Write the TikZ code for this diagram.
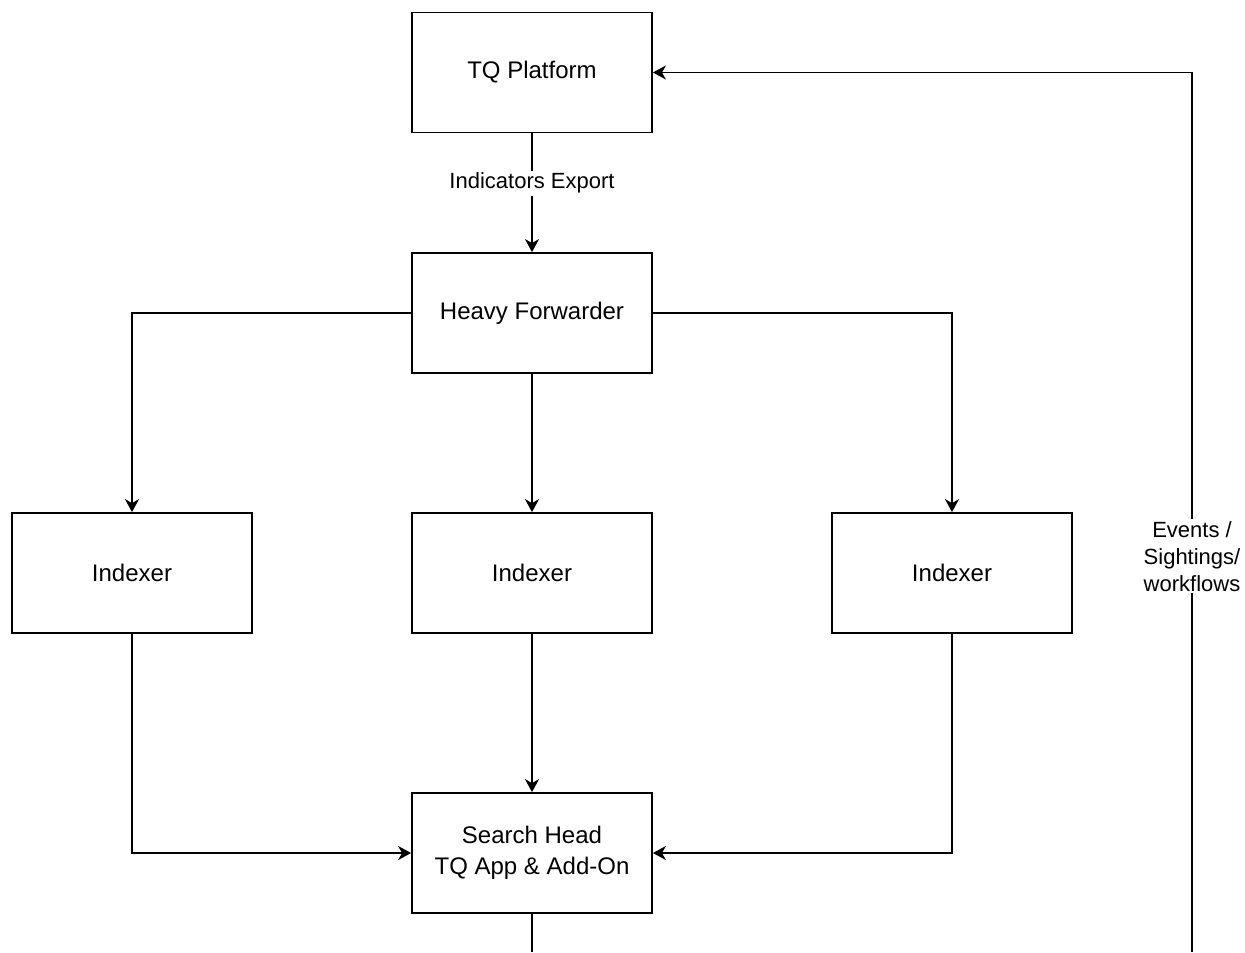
\documentclass[tikz,border=0pt]{standalone}
\usepackage{fontspec}
\setmainfont{Liberation Sans}
\usetikzlibrary{arrows.meta}
\begin{document}
\begin{tikzpicture}[x=0.5pt,y=-0.5pt,
  box/.style={draw,line width=0.9pt,minimum width=120pt,minimum height=60pt,inner sep=0pt,align=center,font=\fontsize{12}{15.5}\selectfont},
  conn/.style={line width=0.9pt,-{Stealth[length=6.5pt,width=7pt,inset=2pt]}},
  plain/.style={line width=0.9pt},
  lbl/.style={fill=white,inner sep=1pt,align=center,font=\fontsize{11}{13.5}\selectfont}]
\useasboundingbox (0,0) rectangle (1245,952);
\node[box] (tq) at (532,72.5) {TQ Platform};
\node[box] (hf) at (532,313) {Heavy Forwarder};
\node[box] (i1) at (132,573) {Indexer};
\node[box] (i2) at (532,573) {Indexer};
\node[box] (i3) at (952,573) {Indexer};
\node[box] (sh) at (532,853) {Search Head\\TQ App \& Add-On};
\coordinate (bot) at (532,952);
\coordinate (rbot) at (1192,952);
\draw[conn] (tq) -- node[lbl,pos=0.42] {Indicators Export} (hf);
\draw[conn] (hf.west) -| (i1.north);
\draw[conn] (hf) -- (i2);
\draw[conn] (hf.east) -| (i3.north);
\draw[conn] (i1.south) |- (sh.west);
\draw[conn] (i2) -- (sh);
\draw[conn] (i3.south) |- (sh.east);
\draw[plain] (sh.south) -- (bot);
\draw[conn] (rbot) -- node[lbl,pos=0.45] {Events /\\Sightings/\\workflows} (1192,72.5) -- (tq.east);
\end{tikzpicture}
\end{document}
